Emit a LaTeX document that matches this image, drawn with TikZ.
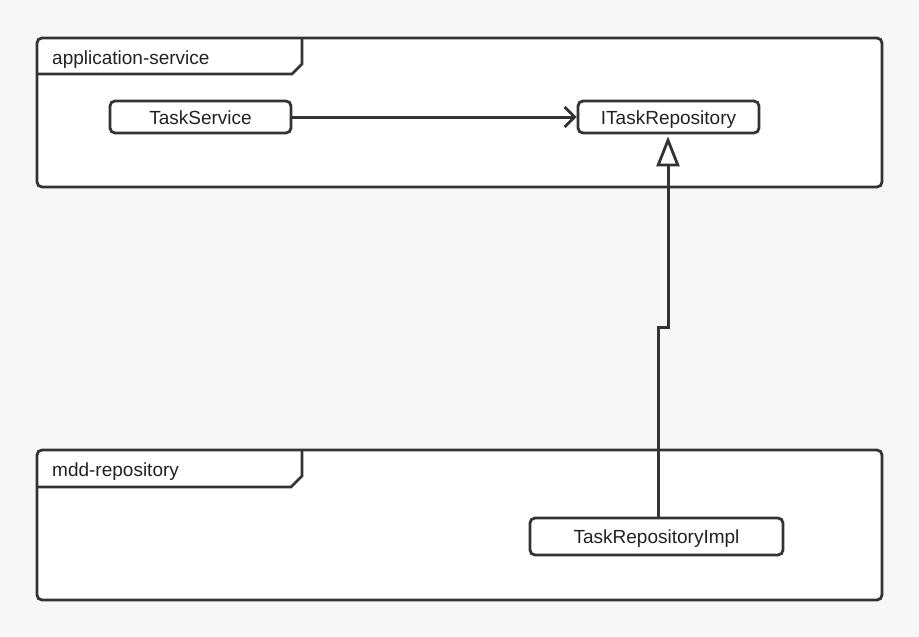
\documentclass[tikz,border=0pt]{standalone}
\usepackage{fontspec}
\setmainfont{Liberation Sans}
\usetikzlibrary{arrows.meta}
\definecolor{bg}{HTML}{F7F7F7}
\definecolor{ln}{HTML}{333333}
\definecolor{tx}{HTML}{222222}
\tikzset{
  frame/.style={draw=ln, line width=2.8pt, fill=white, rounded corners=5pt},
  tabline/.style={draw=ln, line width=2.8pt},
  cls/.style={draw=ln, line width=2.8pt, rounded corners=5pt, fill=white, inner sep=0pt, text height=14pt, text depth=0pt, font=\fontsize{19}{22}\selectfont, text=tx},
  lbl/.style={anchor=west, inner sep=0pt, text height=14pt, text depth=0pt, font=\fontsize{19}{22}\selectfont, text=tx},
  conn/.style={draw=ln, line width=3pt},
}
\begin{document}
\begin{tikzpicture}[x=1pt,y=-1pt]
\useasboundingbox[fill=bg] (0,0) rectangle (919,637);
% frame 1
\draw[frame] (37,38) rectangle (882,187);
\draw[tabline] (37,74) -- (292,74) -- (302,64) -- (302,38);
\node[lbl] (f1) at (52,57) {application-service};
% frame 2
\draw[frame] (37,450) rectangle (882,600);
\draw[tabline] (37,487) -- (291,487) -- (302,476) -- (302,450);
\node[lbl] (f2) at (52,469) {mdd-repository};
% classes
\node[cls, minimum width=181pt, minimum height=32pt] (ts) at (200.5,117) {TaskService};
\node[cls, minimum width=181pt, minimum height=32pt] (itr) at (668.5,117) {ITaskRepository};
\node[cls, minimum width=253pt, minimum height=37pt] (tri) at (656.5,536.5) {TaskRepositoryImpl};
\coordinate (j1) at (658,327);
\coordinate (j2) at (668,327);
\draw[conn, -{Straight Barb[length=10pt,width=20pt,line width=2.8pt]}] (ts.east) -- (itr.west);
\draw[conn, shorten >=2pt, -{Triangle[open, length=30pt, width=23pt, line width=2.8pt, fill=white]}] (tri.north -| j1) -- (j1) -- (j2) -- (itr.south -| j2);
\end{tikzpicture}
\end{document}
